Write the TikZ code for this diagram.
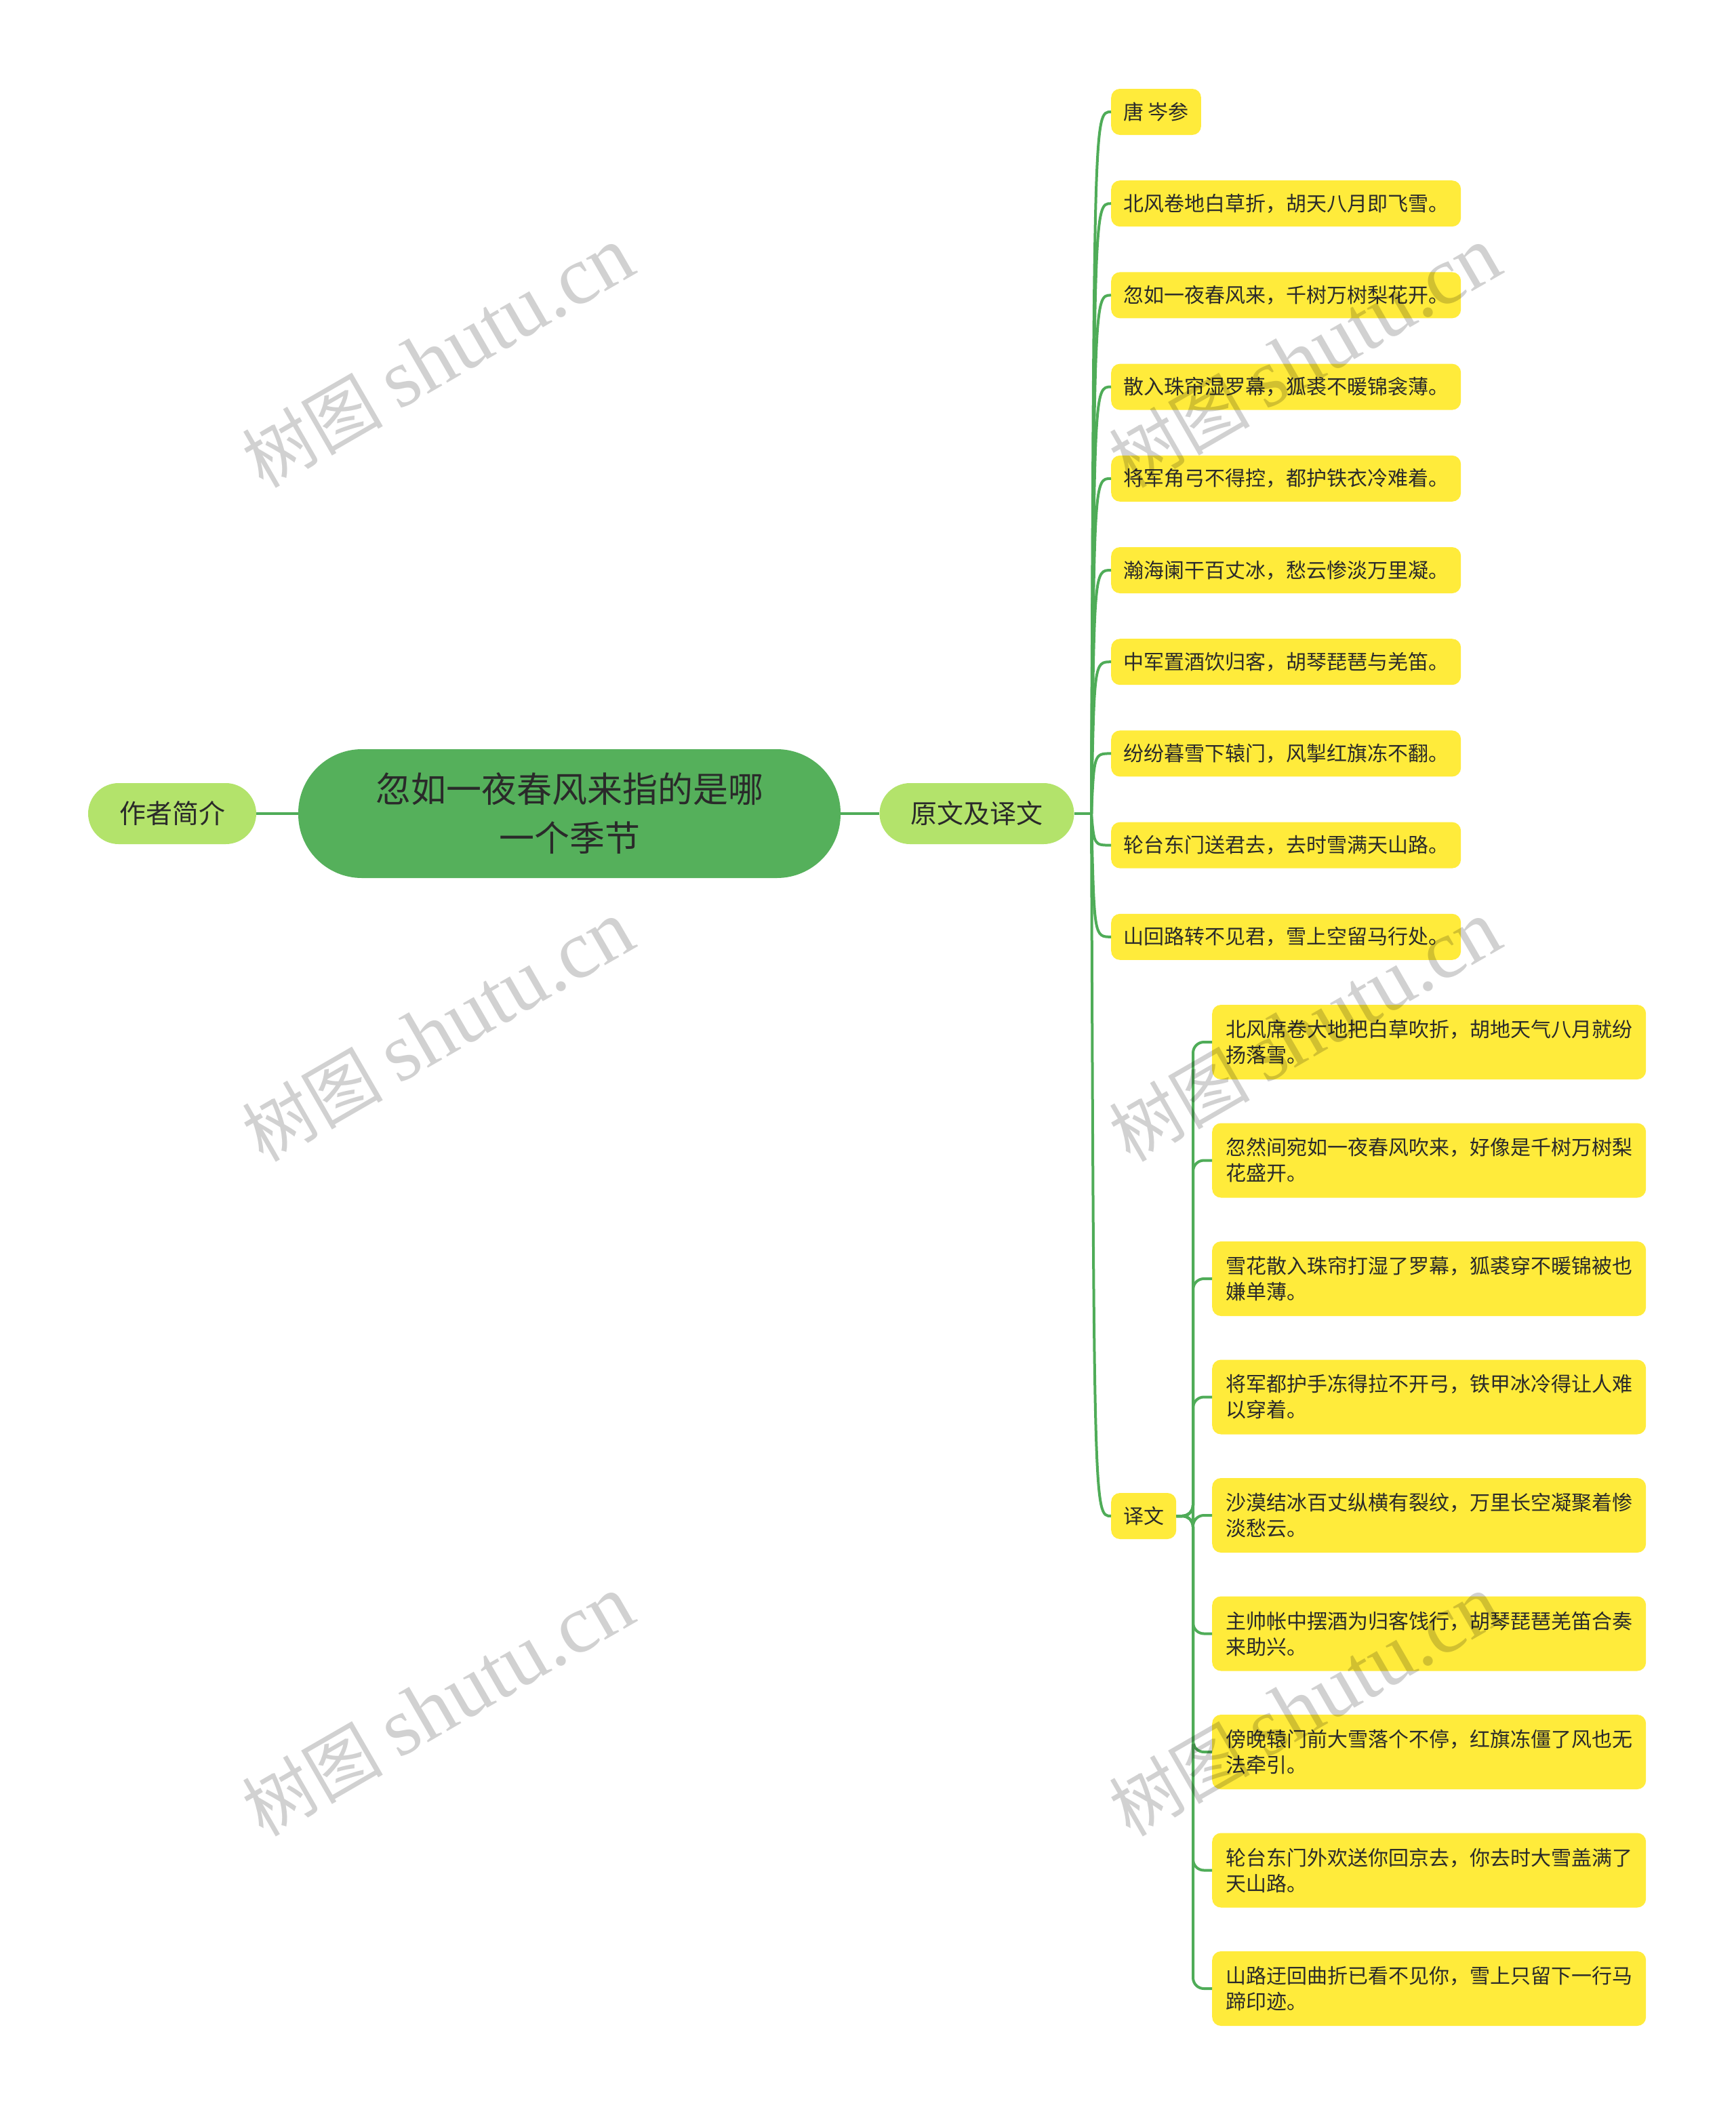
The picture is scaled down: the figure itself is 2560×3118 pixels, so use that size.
\documentclass[tikz,border=0pt]{standalone}
\usepackage{fontspec}
\setmainfont{Noto Sans CJK SC}
\newfontfamily\wmlatin{Liberation Serif}
\usepackage{tikz}
\usepackage{xcolor}
\definecolor{rootgreen}{HTML}{55B05B}
\definecolor{branchgreen}{HTML}{B3E36B}
\definecolor{leafyellow}{HTML}{FFEB3B}
\definecolor{linkgreen}{HTML}{4FAC58}
\definecolor{textdark}{HTML}{2A2A2A}

\begin{document}
\begin{tikzpicture}[x=1pt, y=-1pt,
    topic/.style={fill=rootgreen, text=textdark, rounded corners=94pt, minimum width=800pt, minimum height=190pt, align=center, font=\fontsize{52pt}{72pt}\selectfont},
    branch/.style={fill=branchgreen, text=textdark, rounded corners=45pt, minimum height=90pt, inner xsep=46pt, font=\fontsize{39pt}{46pt}\selectfont},
    leaf/.style={fill=leafyellow, text=textdark, rounded corners=13pt, minimum height=68pt, inner xsep=18pt, anchor=west, font=\fontsize{30pt}{38pt}\selectfont},
    note/.style={leaf, text width=600pt, align=left, minimum height=110pt, inner xsep=20pt},
    link/.style={draw=linkgreen, line width=4pt},
    watermark/.style={rotate=30, text=black, opacity=0.18, font=\fontsize{104pt}{110pt}\selectfont}]
    \useasboundingbox (0,0) rectangle (2560,3118);

    % main topic and the two branches
    \node[topic] (topic) at (840,1200) {忽如一夜春风来指的是哪\\一个季节};
    \node[branch] (author) at (254,1200) {作者简介};
    \node[branch] (source) at (1441,1200) {原文及译文};
    \draw[link] (author.east) -- (topic.west);
    \draw[link] (topic.east) -- (source.west);

    % poem lines
    \coordinate (fork) at (1610,1200);
    \draw[link] (source.east) -- (fork);
    \foreach \txt [count=\i] in {唐 岑参, 北风卷地白草折，胡天八月即飞雪。, 忽如一夜春风来，千树万树梨花开。, 散入珠帘湿罗幕，狐裘不暖锦衾薄。, 将军角弓不得控，都护铁衣冷难着。, 瀚海阑干百丈冰，愁云惨淡万里凝。, 中军置酒饮归客，胡琴琵琶与羌笛。, 纷纷暮雪下辕门，风掣红旗冻不翻。, 轮台东门送君去，去时雪满天山路。, 山回路转不见君，雪上空留马行处。} {
        \node[leaf] (line\i) at (1639,{165+135.2*(\i-1)}) {\txt};
        \draw[link] (fork) .. controls (1614,{165+135.2*(\i-1)}) and (1614,{165+135.2*(\i-1)}) .. (line\i.west);
    }

    % translation
    \node[leaf] (trans) at (1639,2236) {译文};
    \draw[link] (fork) .. controls (1614,2236) and (1614,2236) .. (trans.west);
    \coordinate (tfork) at (1760,2236);
    \foreach \txt [count=\i] in {北风席卷大地把白草吹折，胡地天气八月就纷\\扬落雪。, 忽然间宛如一夜春风吹来，好像是千树万树梨\\花盛开。, 雪花散入珠帘打湿了罗幕，狐裘穿不暖锦被也\\嫌单薄。, 将军都护手冻得拉不开弓，铁甲冰冷得让人难\\以穿着。, 沙漠结冰百丈纵横有裂纹，万里长空凝聚着惨\\淡愁云。, 主帅帐中摆酒为归客饯行，胡琴琵琶羌笛合奏\\来助兴。, 傍晚辕门前大雪落个不停，红旗冻僵了风也无\\法牵引。, 轮台东门外欢送你回京去，你去时大雪盖满了\\天山路。, 山路迂回曲折已看不见你，雪上只留下一行马\\蹄印迹。} {
        \node[note] (tr\i) at (1788,{1537+174.5*(\i-1)}) {\txt};
        \draw[link, rounded corners=16pt] (trans.east) -- (tfork) |- (tr\i.west);
    }

    % watermarks
    \foreach \wx in {646,1925}
        \foreach \wy in {527,1521,2516}
            \node[watermark] at (\wx,\wy) {树图 {\wmlatin\fontsize{122pt}{130pt}\selectfont shutu.cn}};
\end{tikzpicture}
\end{document}
